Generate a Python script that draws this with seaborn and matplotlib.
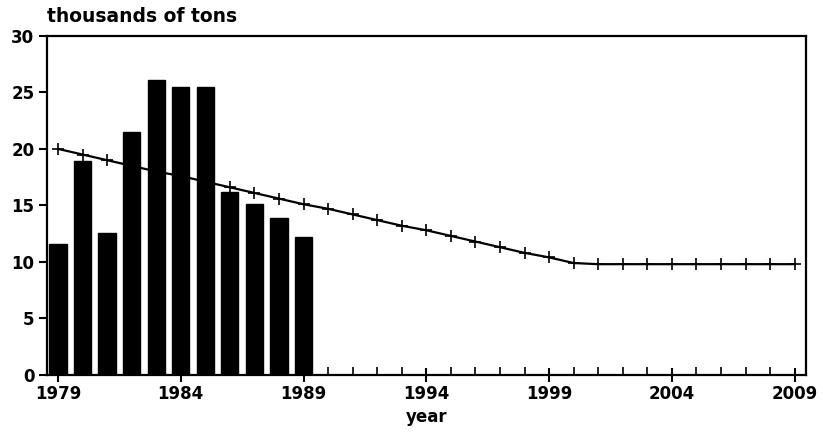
import numpy as np
import pandas as pd
import matplotlib
matplotlib.use("Agg")
import matplotlib.pyplot as plt
import seaborn as sns
from matplotlib.ticker import MultipleLocator

bar_years = [1979, 1980, 1981, 1982, 1983, 1984, 1985, 1986, 1987, 1988, 1989]
bar_values = [11.6, 18.9, 12.6, 21.5, 26.1, 25.5, 25.5, 16.2, 15.1, 13.9, 12.2]

line_years = list(range(1979, 2010))
line_values = [20.0, 19.5, 19.0, 18.5, 18.0, 17.6, 17.1, 16.6, 16.1, 15.6, 15.1,
               14.7, 14.2, 13.7, 13.2, 12.8, 12.3, 11.8, 11.3, 10.8, 10.4, 9.9,
               9.8, 9.8, 9.8, 9.8, 9.8, 9.8, 9.8, 9.8, 9.8]

sns.set_style("ticks")
plt.rcParams['font.family'] = ['DejaVu Sans']
plt.rcParams['font.weight'] = 'bold'
plt.rcParams['text.color'] = 'black'
plt.rcParams['axes.labelcolor'] = 'black'
plt.rcParams['xtick.color'] = 'black'
plt.rcParams['ytick.color'] = 'black'

df_bar = pd.DataFrame({'year': bar_years, 'value': bar_values})
df_line = pd.DataFrame({'year': line_years, 'value': line_values})

fig = plt.figure(figsize=(8.23, 4.37), dpi=100)
ax = fig.add_axes([0.057, 0.142, 0.922, 0.776])

sns.barplot(data=df_bar, x='year', y='value', native_scale=True, width=0.7,
            color='black', edgecolor='black', ax=ax)
sns.lineplot(data=df_line, x='year', y='value', color='black', linewidth=1.6,
             marker='+', markersize=9, markeredgewidth=1.2,
             markeredgecolor='black', markerfacecolor='black', ax=ax)

ax.set_xlim(1978.55, 2009.45)
ax.set_ylim(0, 30)
ax.set_xticks([1979, 1984, 1989, 1994, 1999, 2004, 2009])
ax.xaxis.set_minor_locator(MultipleLocator(1))
ax.set_yticks([0, 5, 10, 15, 20, 25, 30])
ax.tick_params(axis='x', which='major', direction='inout', length=10, width=1.5,
               labelsize=12, pad=2, colors='black')
ax.tick_params(axis='x', which='minor', direction='in', length=6, width=1.2,
               colors='black')
ax.tick_params(axis='y', which='major', direction='out', length=6, width=1.5,
               labelsize=12, pad=3, colors='black')
for lab in ax.get_xticklabels() + ax.get_yticklabels():
    lab.set_fontweight('bold')
for s in ax.spines.values():
    s.set_visible(True)
    s.set_linewidth(1.6)
    s.set_color('black')

ax.set_xlabel('year', fontsize=12, fontweight='bold', labelpad=4, color='black')
ax.set_ylabel('')
fig.text(0.057, 0.940, 'thousands of tons', fontsize=13.5, fontweight='bold',
         ha='left', va='bottom', color='black')

plt.savefig('out.png', dpi=100)
